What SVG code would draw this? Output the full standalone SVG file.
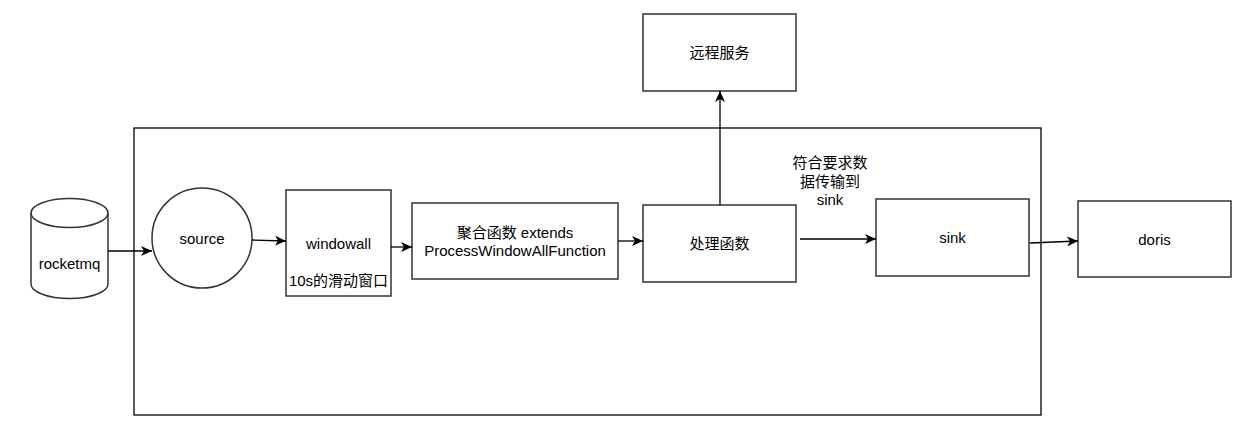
<svg xmlns="http://www.w3.org/2000/svg" width="1257" height="448" viewBox="0 0 1257 448">
<style>
.box{fill:#fff;stroke:#333;stroke-width:1.5}
.t{font-family:"Liberation Sans","Noto Sans CJK SC",sans-serif;font-size:15px;fill:#000;text-anchor:middle;dominant-baseline:central}
.e{fill:none;stroke:#000;stroke-width:1.3;marker-end:url(#arr)}
</style>
<defs>
<marker id="arr" markerWidth="12" markerHeight="10" refX="11" refY="5" orient="auto" markerUnits="userSpaceOnUse">
<path d="M0,0 L11,5 L0,10 L3,5 z" fill="#000"/>
</marker>
</defs>
<rect x="0" y="0" width="1257" height="448" fill="#fff"/>
<g id="container"><rect x="134" y="128" width="907" height="287" fill="none" stroke="#000" stroke-width="1.3"/></g>
<g id="rocketmq">
<path class="box" d="M31,213 A38.5,14.5 0 0 1 108,213 L108,284 A38.5,14.5 0 0 1 31,284 Z"/>
<path class="box" fill="none" d="M31,213 A38.5,14.5 0 0 0 108,213"/>
<text class="t" x="69.5" y="263">rocketmq</text>
</g>
<g id="source"><circle class="box" cx="202" cy="238" r="50"/><text class="t" x="202" y="238">source</text></g>
<g id="windowall"><rect class="box" x="286" y="190" width="105" height="106"/>
<text class="t" x="338.5" y="243">windowall</text><text class="t" x="338.5" y="280">10s的滑动窗口</text></g>
<g id="aggregate"><rect class="box" x="412" y="203" width="206" height="76"/>
<text class="t" x="515" y="232">聚合函数 extends</text><text class="t" x="515" y="250">ProcessWindowAllFunction</text></g>
<g id="process"><rect class="box" x="643" y="205" width="153" height="77"/><text class="t" x="719.5" y="243">处理函数</text></g>
<g id="remote"><rect class="box" x="643" y="14" width="153" height="77"/><text class="t" x="719.5" y="52">远程服务</text></g>
<g id="sink"><rect class="box" x="876" y="199" width="153" height="77"/><text class="t" x="952.5" y="237">sink</text></g>
<g id="doris"><rect class="box" x="1078" y="201" width="153" height="76"/><text class="t" x="1154.5" y="239">doris</text></g>
<g id="connectors">
<path class="e" d="M108,251 L152,251"/>
<path class="e" d="M252,240 L286,241"/>
<path class="e" d="M391,247 L412,247"/>
<path class="e" d="M618,241 L643,241"/>
<path class="e" d="M720,205 L720,91"/>
<path class="e" d="M800,239 L876,239"/>
<path class="e" d="M1030,243 L1078,241"/>
<text class="t" x="830" y="162">符合要求数</text>
<text class="t" x="830" y="181">据传输到</text>
<text class="t" x="830" y="199">sink</text>
</g>
</svg>
